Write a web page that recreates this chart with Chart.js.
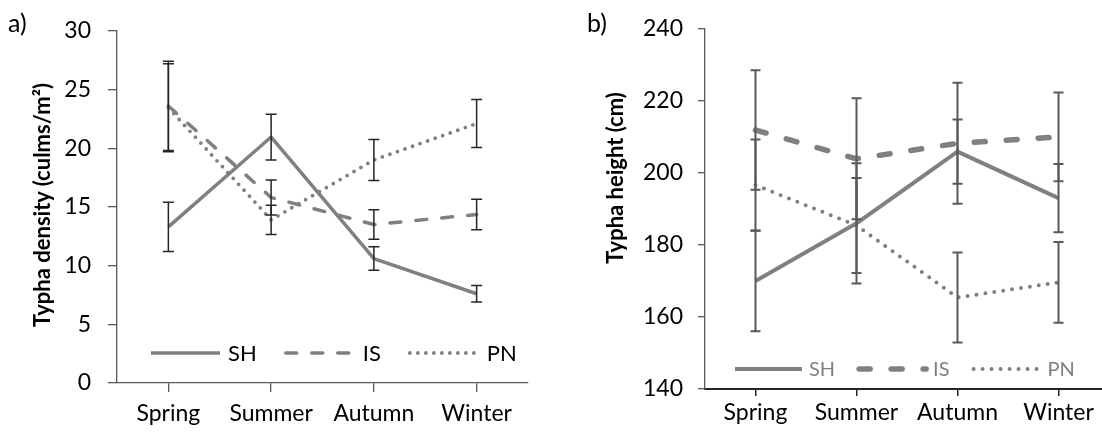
<!DOCTYPE html>
<html>
<head>
<meta charset="utf-8">
<title>Typha density and height by season</title>
<script src="https://cdn.jsdelivr.net/npm/chart.js@4.4.1/dist/chart.umd.min.js"></script>
<style>
  html, body { margin: 0; padding: 0; background: #fff; overflow: hidden; }
  body { width: 1102px; height: 432px; position: relative; font-family: Lato, sans-serif; }
  .panel { position: absolute; top: 0; height: 432px; }
  #wrapA { left: 0; width: 550px; }
  #wrapB { left: 560px; width: 560px; }
  .tag { position: absolute; font-size: 25px; line-height: 1; color: #000; }
  .ytitle {
    position: absolute; white-space: nowrap; font-size: 22px; font-weight: bold;
    line-height: 1; color: #000; transform: translate(-50%, -50%) rotate(-90deg);
  }
</style>
</head>
<body>
<div class="panel" id="wrapA"><canvas id="densityChart"></canvas></div>
<div class="panel" id="wrapB"><canvas id="heightChart"></canvas></div>
<div class="tag" style="left:8px; top:10px;">a)</div>
<div class="tag" style="left:587px; top:10px;">b)</div>
<div class="ytitle" style="left:42px; top:205px;">Typha density (culms/m²)</div>
<div class="ytitle" style="left:615px; top:178px;">Typha height (cm)</div>

<script>
const seasons = ['Spring', 'Summer', 'Autumn', 'Winter'];

// Culm density (culms/m²): mean and error per season
const densitySH = [13.3, 20.95, 10.6, 7.6];
const densitySHErr = [2.1, 1.95, 1.0, 0.7];
const densityIS = [23.6, 15.8, 13.5, 14.35];
const densityISErr = [3.8, 1.5, 1.25, 1.3];
const densityPN = [23.45, 13.9, 19.0, 22.1];
const densityPNErr = [3.75, 1.25, 1.75, 2.05];
const densityTicks = [0, 5, 10, 15, 20, 25, 30];

// Plant height (cm): mean and error per season
const heightSH = [170, 186, 205.9, 193];
const heightSHErr = [14, 16.7, 8.9, 9.5];
const heightIS = [211.9, 203.9, 208.2, 210];
const heightISErr = [16.6, 16.8, 16.8, 12.3];
const heightPN = [196.6, 185.4, 165.4, 169.6];
const heightPNErr = [12.7, 13.2, 12.5, 11.2];
const heightTicks = [140, 160, 180, 200, 220, 240];

Chart.defaults.font.family = "Lato, 'Open Sans', sans-serif";
Chart.defaults.animation = false;

const lineGrey = '#808080';

// Vertical error bars with caps, drawn on top of the lines
const errorBars = {
  id: 'errorBars',
  afterDatasetsDraw(chart, args, opts) {
    const { ctx } = chart;
    const yScale = chart.scales.y;
    const half = opts.capWidth / 2;
    ctx.save();
    ctx.strokeStyle = opts.color;
    ctx.lineWidth = opts.width;
    ctx.setLineDash([]);
    chart.data.datasets.forEach((ds, i) => {
      if (!ds.errors) return;
      chart.getDatasetMeta(i).data.forEach((pt, j) => {
        const top = yScale.getPixelForValue(ds.data[j] + ds.errors[j]);
        const bottom = yScale.getPixelForValue(ds.data[j] - ds.errors[j]);
        ctx.beginPath();
        ctx.moveTo(pt.x, top);
        ctx.lineTo(pt.x, bottom);
        ctx.moveTo(pt.x - half, top);
        ctx.lineTo(pt.x + half, top);
        ctx.moveTo(pt.x - half, bottom);
        ctx.lineTo(pt.x + half, bottom);
        ctx.stroke();
      });
    });
    ctx.restore();
  }
};

// Legend laid out in one row inside the plot, using each dataset's own line style
const lineLegend = {
  id: 'lineLegend',
  afterDraw(chart, args, opts) {
    const { ctx, chartArea } = chart;
    let x = chartArea.left + opts.left;
    const y = chartArea.bottom - opts.bottom;
    ctx.save();
    ctx.font = opts.fontSize + 'px ' + Chart.defaults.font.family;
    ctx.textBaseline = 'middle';
    ctx.fillStyle = opts.color;
    chart.data.datasets.forEach(ds => {
      ctx.strokeStyle = ds.borderColor;
      ctx.lineWidth = ds.borderWidth;
      ctx.lineCap = ds.borderCapStyle || 'butt';
      ctx.setLineDash(ds.borderDash || []);
      ctx.beginPath();
      ctx.moveTo(x, y);
      ctx.lineTo(x + opts.sample, y);
      ctx.stroke();
      x += opts.sample + opts.textGap;
      ctx.fillText(ds.label, x, y + 1);
      x += ctx.measureText(ds.label).width + opts.itemGap;
    });
    ctx.restore();
  }
};

function seriesSet(values, errors, label, width, dash, cap) {
  return {
    label: label,
    data: values,
    errors: errors,
    borderColor: lineGrey,
    borderWidth: width,
    borderDash: dash,
    borderCapStyle: cap,
    borderJoinStyle: 'round',
    pointRadius: 0,
    tension: 0,
    fill: false
  };
}

function axisStyle(color, width, tickLength) {
  return {
    grid: { drawOnChartArea: false, drawTicks: true, tickLength: tickLength, color: color, lineWidth: width },
    border: { display: true, color: color, width: width }
  };
}

// a) density
new Chart(document.getElementById('densityChart'), {
  type: 'line',
  data: {
    labels: seasons,
    datasets: [
      seriesSet(densitySH, densitySHErr, 'SH', 3.5, [], 'butt'),
      seriesSet(densityIS, densityISErr, 'IS', 3.5, [11, 15], 'round'),
      seriesSet(densityPN, densityPNErr, 'PN', 3.8, [0, 8], 'round')
    ]
  },
  plugins: [errorBars, lineLegend],
  options: {
    responsive: true,
    maintainAspectRatio: false,
    layout: { padding: { top: 25, right: 22, left: 0, bottom: 0 } },
    plugins: {
      legend: { display: false },
      tooltip: { enabled: false },
      errorBars: { color: '#262626', width: 1.5, capWidth: 11 },
      lineLegend: { left: 34, bottom: 30, sample: 69, textGap: 8, itemGap: 29, fontSize: 22, color: '#000' }
    },
    scales: {
      x: {
        offset: true,
        ...axisStyle('#595959', 1.3, 9),
        ticks: { color: '#000', font: { size: 23 }, padding: 8, maxRotation: 0, autoSkip: false },
        afterFit: s => { s.height = 49; }
      },
      y: {
        min: densityTicks[0],
        max: densityTicks[densityTicks.length - 1],
        afterBuildTicks: s => { s.ticks = densityTicks.map(v => ({ value: v })); },
        ...axisStyle('#595959', 1.3, 9),
        ticks: { color: '#000', font: { size: 23 }, padding: 17 },
        afterFit: s => { s.width = 117; }
      }
    }
  }
});

// b) height
new Chart(document.getElementById('heightChart'), {
  type: 'line',
  data: {
    labels: seasons,
    datasets: [
      seriesSet(heightSH, heightSHErr, 'SH', 4, [], 'butt'),
      seriesSet(heightIS, heightISErr, 'IS', 5.5, [11, 21], 'round'),
      seriesSet(heightPN, heightPNErr, 'PN', 4, [0, 9], 'round')
    ]
  },
  plugins: [errorBars, lineLegend],
  options: {
    responsive: true,
    maintainAspectRatio: false,
    layout: { padding: { top: 25, right: 11, left: 0, bottom: 0 } },
    plugins: {
      legend: { display: false },
      tooltip: { enabled: false },
      errorBars: { color: '#595959', width: 2, capWidth: 10 },
      lineLegend: { left: 30, bottom: 20, sample: 67, textGap: 7, itemGap: 24, fontSize: 20, color: '#7f7f7f' }
    },
    scales: {
      x: {
        offset: true,
        grid: { drawOnChartArea: false, drawTicks: true, tickLength: 7, color: '#262626', lineWidth: 1.5 },
        border: { display: true, color: '#262626', width: 2 },
        ticks: { color: '#000', font: { size: 23 }, padding: 3, maxRotation: 0, autoSkip: false },
        afterFit: s => { s.height = 43; }
      },
      y: {
        min: heightTicks[0],
        max: heightTicks[heightTicks.length - 1],
        afterBuildTicks: s => { s.ticks = heightTicks.map(v => ({ value: v })); },
        ...axisStyle('#595959', 1.3, 7),
        ticks: { color: '#000', font: { size: 23 }, padding: 15 },
        afterFit: s => { s.width = 145; }
      }
    }
  }
});
</script>
</body>
</html>
